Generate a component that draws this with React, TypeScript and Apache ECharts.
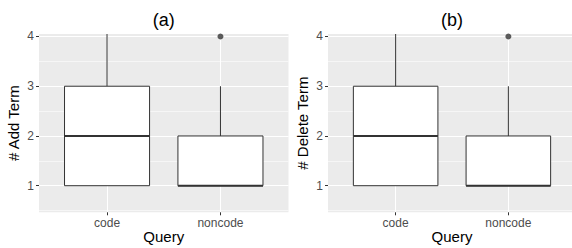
import React, { useEffect, useRef } from "react";
import * as echarts from "echarts";

// ---- data ----
const categories = ["code", "noncode"];
// [min, Q1, median, Q3, max] per category
const addTermStats = [
  [1, 1, 2, 3, 5],
  [1, 1, 1, 2, 3],
];
const deleteTermStats = [
  [1, 1, 2, 3, 5],
  [1, 1, 1, 2, 3],
];
// [category position (1-based), value]
const addTermOutliers = [[2, 4]];
const deleteTermOutliers = [[2, 4]];
const yTicks = [1, 2, 3, 4];
const yMinorBreaks = [0.5, 1.5, 2.5, 3.5];
const xPositions = [1, 2];
const panelTitles = ["(a)", "(b)"];
const yTitles = ["# Add Term", "# Delete Term"];
const xTitle = "Query";

const FONT = "'Liberation Sans', Arial, Helvetica, sans-serif";
const Y_MIN = 0.465;
const Y_MAX = 4.05;
const X_MIN = 0.4;
const X_MAX = 2.6;
const BOX_WIDTH = 0.75;
const LINE = "#333333";

const grids = [
  { left: 39, top: 34, width: 249.5, height: 178.3 },
  { left: 328, top: 34, width: 248, height: 178.3 },
];

function renderBox(params: any, api: any) {
  const x = api.value(0);
  const cs = params.coordSys;
  const top = cs.y;
  const bottom = cs.y + cs.height;
  const clamp = (v: number) => Math.max(top, Math.min(bottom, v));
  const cx = api.coord([x, 1])[0];
  const yMin = clamp(api.coord([x, api.value(1)])[1]);
  const yQ1 = clamp(api.coord([x, api.value(2)])[1]);
  const yMed = clamp(api.coord([x, api.value(3)])[1]);
  const yQ3 = clamp(api.coord([x, api.value(4)])[1]);
  const yMax = clamp(api.coord([x, api.value(5)])[1]);
  const half = api.size([BOX_WIDTH, 0])[0] / 2;
  const lineStyle = { stroke: LINE, lineWidth: 1 };
  return {
    type: "group",
    children: [
      { type: "line", shape: { x1: cx, y1: yQ3, x2: cx, y2: yMax }, style: lineStyle },
      { type: "line", shape: { x1: cx, y1: yQ1, x2: cx, y2: yMin }, style: lineStyle },
      {
        type: "rect",
        shape: { x: cx - half, y: yQ3, width: half * 2, height: yQ1 - yQ3 },
        style: { fill: "#ffffff", stroke: LINE, lineWidth: 1 },
      },
      {
        type: "line",
        shape: { x1: cx - half, y1: yMed, x2: cx + half, y2: yMed },
        style: { stroke: LINE, lineWidth: 2 },
      },
    ],
  };
}

export default function App() {
  const ref = useRef<HTMLDivElement>(null);
  useEffect(() => {
    if (!ref.current) return;
    const chart = echarts.init(ref.current, null, { renderer: "svg" });
    const statsList = [addTermStats, deleteTermStats];
    const outlierList = [addTermOutliers, deleteTermOutliers];

    const xAxis: any[] = [];
    const yAxis: any[] = [];
    const series: any[] = [];
    const graphic: any[] = [];

    grids.forEach((g, i) => {
      xAxis.push({
        gridIndex: i,
        type: "value",
        min: X_MIN,
        max: X_MAX,
        axisLine: { show: false },
        axisTick: { show: true, customValues: xPositions, length: 3, lineStyle: { color: LINE, width: 1 } },
        axisLabel: {
          customValues: xPositions,
          formatter: (v: number) => categories[Math.round(v) - 1] ?? "",
          fontSize: 12,
          color: "#4d4d4d",
          fontFamily: FONT,
          margin: 5,
        },
        splitLine: { show: true, lineStyle: { color: "#ffffff", width: 1.07 } },
        name: xTitle,
        nameLocation: "middle",
        nameGap: 17,
        nameMoveOverlap: false,
        nameTextStyle: { fontSize: 15, color: "#000", fontFamily: FONT },
      });
      // major ticks/labels/grid
      yAxis.push({
        gridIndex: i,
        type: "value",
        min: Y_MIN,
        max: Y_MAX,
        axisLine: { show: false },
        axisTick: { show: true, customValues: yTicks, length: 3, lineStyle: { color: LINE, width: 1 } },
        axisLabel: {
          customValues: yTicks,
          fontSize: 12,
          color: "#4d4d4d",
          fontFamily: FONT,
          margin: 5,
        },
        splitLine: { show: true, lineStyle: { color: "#ffffff", width: 1.07 } },
        name: yTitles[i],
        nameLocation: "middle",
        nameGap: 18,
        nameMoveOverlap: false,
        nameTextStyle: { fontSize: 15, color: "#000", fontFamily: FONT },
      });
      // minor grid lines
      yAxis.push({
        gridIndex: i,
        type: "value",
        min: Y_MIN,
        max: Y_MAX,
        position: "left",
        axisLine: { show: false },
        axisTick: { show: false, customValues: yMinorBreaks },
        axisLabel: { show: false, customValues: yMinorBreaks },
        splitLine: { show: true, lineStyle: { color: "#ffffff", width: 0.55 } },
      });

      const data = statsList[i].map((s, k) => [xPositions[k], ...s]);
      series.push({
        type: "custom",
        xAxisIndex: i,
        yAxisIndex: i * 2,
        renderItem: renderBox,
        data,
        encode: { x: 0, y: [1, 2, 3, 4, 5] },
        z: 3,
      });
      series.push({
        type: "scatter",
        xAxisIndex: i,
        yAxisIndex: i * 2,
        data: outlierList[i],
        symbol: "circle",
        symbolSize: 6,
        itemStyle: { color: LINE },
        z: 4,
      });
      graphic.push({
        type: "text",
        x: g.left + g.width / 2,
        y: 20,
        style: {
          text: panelTitles[i],
          fontSize: 18,
          fontFamily: FONT,
          fill: "#000",
          textAlign: "center",
          textVerticalAlign: "middle",
        },
      });
    });

    chart.setOption({
      animation: false,
      grid: grids.map((g) => ({
        ...g,
        show: true,
        backgroundColor: "#EBEBEB",
        borderWidth: 0,
        containLabel: false,
        outerBoundsMode: "none",
      })),
      xAxis,
      yAxis,
      series,
      graphic,
    });
    return () => chart.dispose();
  }, []);
  return (
    <div
      ref={ref}
      style={{ position: "fixed", left: 0, top: 0, width: 572, height: 248, background: "#fff" }}
    />
  );
}
